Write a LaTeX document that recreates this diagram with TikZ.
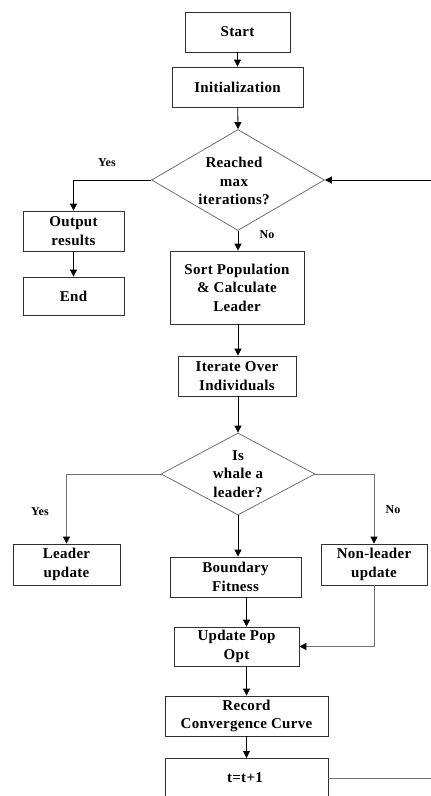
\documentclass[tikz,border=0pt]{standalone}
\usepackage{fontspec}
\setmainfont{Liberation Serif}[LetterSpace=2]
\usetikzlibrary{arrows.meta,shapes.geometric,calc}
\definecolor{boxline}{HTML}{303030}
\definecolor{grayline}{HTML}{707070}
\tikzset{
  box/.style={draw=boxline, line width=0.8pt, rectangle, inner sep=0pt, align=center,
    font=\fontsize{15}{18.5}\selectfont\bfseries},
  dec/.style={draw=grayline, line width=0.8pt, diamond, inner sep=0pt},
  dectext/.style={align=center, font=\fontsize{15}{18.5}\selectfont\bfseries, inner sep=0pt},
  lbl/.style={font=\fontsize{12}{14}\selectfont\bfseries, inner sep=0pt},
  arr/.style={line width=0.8pt, draw=black, -{Triangle[length=7pt,width=7pt]}},
  garr/.style={line width=0.8pt, draw=grayline, -{Triangle[length=7pt,width=7pt,color=black]}},
  gline/.style={line width=0.8pt, draw=grayline},
}
\begin{document}
\begin{tikzpicture}[x=1pt,y=-1pt]
\useasboundingbox (0,0) rectangle (431,796);
\clip (0,0) rectangle (431,796);
% boxes
\node[box, minimum width=105pt, minimum height=40pt] (start) at (237.5,32) {Start};
\node[box, minimum width=131pt, minimum height=40pt] (init) at (237.5,87) {Initialization};
\node[dec, minimum width=173pt, minimum height=101pt] (d1) at (238,180) {};
\node[dectext] (d1t) at (234,181) {Reached\\max\\iterations?};
\node[box, minimum width=101pt, minimum height=40pt] (out) at (73.5,231) {Output\\results};
\node[box, minimum width=101pt, minimum height=38pt] (end) at (73.5,296) {End};
\node[box, minimum width=134pt, minimum height=73pt] (sort) at (237,287.5) {Sort Population\\\& Calculate\\Leader};
\node[box, minimum width=118pt, minimum height=40pt] (iter) at (237,376) {Iterate Over\\Individuals};
\node[dec, minimum width=154pt, minimum height=82pt] (d2) at (238,474) {};
\node[dectext] (d2t) at (238,474) {Is\\whale a\\leader?};
\node[box, minimum width=107pt, minimum height=41pt] (lead) at (66.5,564.5) {Leader\\update};
\node[box, minimum width=131pt, minimum height=40pt] (bnd) at (235.5,577) {Boundary\\Fitness};
\node[box, minimum width=106pt, minimum height=41pt] (nl) at (374,564.5) {Non-leader\\update};
\node[box, minimum width=125pt, minimum height=39pt] (upd) at (236.5,646.5) {Update Pop\\Opt};
\node[box, minimum width=163pt, minimum height=40pt] (rec) at (246.5,716) {Record\\Convergence Curve};
\node[box, minimum width=163pt, minimum height=50pt, anchor=north] (tt) at (246.5,758) {};
\node[box, draw=none] (ttt) at (245,778) {t=t+1};
% labels
\node[lbl] (yes1) at (107,163) {Yes};
\node[lbl] (no1) at (267,235) {No};
\node[lbl] (yes2) at (40,512) {Yes};
\node[lbl] (no2) at (393,510) {No};
% edge coordinates
\coordinate (in1) at (431,180);
\coordinate (out2) at (431,778);
% connectors
\draw[arr] (start) -- (init);
\draw[arr] (init) -- (d1.north);
\draw[arr] (d1.west) -| (out.north);
\draw[arr] (out) -- (end);
\draw[arr] (d1.south) -- (d1.south |- sort.north);
\draw[arr] (sort.south -| d1.south) -- (iter.north -| d1.south);
\draw[arr] (iter.south -| d1.south) -- (d2.north);
\draw[garr] (d2.west) -| (lead.north);
\draw[garr] (d2.east) -| (nl.north);
\draw[arr] (d2.south) -- (d2.south |- bnd.north);
\draw[arr] (bnd.south -| rec.north) -- (upd.north -| rec.north);
\draw[garr] (nl.south) |- (upd.east);
\draw[arr] (upd.south -| rec.north) -- (rec.north);
\draw[arr] (rec.south) -- (tt.north);
\draw[gline] (tt.east |- ttt) -- (out2);
\draw[arr] (in1) -- (d1.east);
\end{tikzpicture}
\end{document}
